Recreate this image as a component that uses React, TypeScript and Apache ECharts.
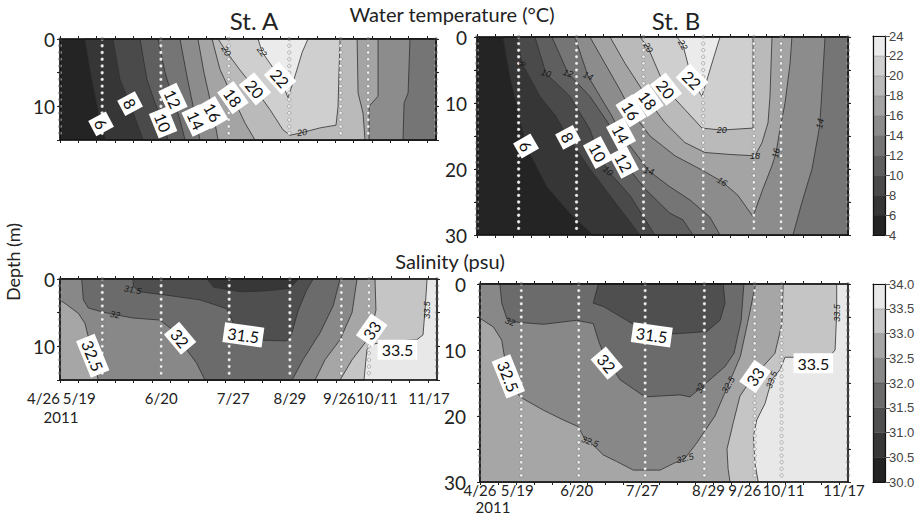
import React, { useEffect, useRef } from 'react';
import * as echarts from 'echarts';

// ---------- sampling grid (days since 26 Apr 2011) ----------
const T_END = 205;
const SAMPLE_T = [0, 23, 55, 92, 125, 153, 168, 205];
const SAMPLE_LABELS = ['4/26', '5/19', '6/20', '7/27', '8/29', '9/26', '10/11', '11/17'];
const YEAR_LABEL = '2011';
const X_TICKS = [0, 10, 20, 30, 40, 50, 60, 70, 80, 90, 100, 110, 120, 130, 140, 150, 160, 170, 180, 190, 200];
const DEPTHS_A = [0, 1, 2, 3, 4, 5, 6, 7, 8, 9, 10, 11, 12, 13, 14];
const DEPTHS_B = [0, 1, 2, 3, 4, 5, 6, 7, 8, 9, 10, 11, 12, 13, 14, 15, 16, 17, 18, 19, 20, 21, 22, 23, 24, 25, 26, 27, 28, 29];

// ---------- colour scales ----------
const TEMP_LEVELS = [4, 6, 8, 10, 12, 14, 16, 18, 20, 22, 24];
const TEMP_COLORS = ['#242424', '#363636', '#4a4a4a', '#5f5f5f', '#757575', '#8c8c8c', '#a4a4a4', '#bababa', '#cfcfcf', '#ebebeb'];
const SAL_LEVELS = [30, 30.5, 31, 31.5, 32, 32.5, 33, 33.5, 34];
const SAL_COLORS = ['#232323', '#373737', '#4f4f4f', '#6b6b6b', '#888888', '#a6a6a6', '#c5c5c5', '#e8e8e8'];

// ---------- isolines [day offset, depth m] : temperature St. A ----------
const TA_6 = [[13.6, 0], [17.4, 6], [22.4, 12.6], [25.1, 15]];
const TA_8 = [[28.9, 0], [32.7, 6], [38.2, 9.6], [45.3, 15]];
const TA_10 = [[43.6, 0], [47.4, 6], [51.8, 9.5], [56.2, 12.4], [58.9, 15]];
const TA_12 = [[53.4, 0], [57.3, 5], [61.6, 8.9], [65.4, 12], [68.2, 15]];
const TA_14W = [[65.4, 0], [69.2, 5.5], [74.2, 12.1], [76.3, 15]];
const TA_14C = [[190.8, 0], [189.8, 8], [187.6, 9.5], [187, 15]];
const TA_16W = [[75.2, 0], [78.5, 5], [83.4, 10.9], [86.2, 15]];
const TA_16C = [[173.4, 0], [173.4, 8.5], [168.5, 10], [168.5, 15]];
const TA_18W = [[82.9, 0], [87.2, 4.5], [94.3, 8.7], [100.9, 12.5], [106.3, 15]];
const TA_18C = [[162, 0], [162.5, 8], [165.2, 11], [166.3, 15]];
const TA_20 = [[86.2, 0], [90.5, 1.8], [98.1, 4.6], [106.3, 7.4], [114.5, 10.5], [121.6, 13.5], [125.4, 14.3], [132, 13.9], [141.8, 13.2], [150.5, 12.8], [151.6, 10], [152.1, 5], [152.7, 0]];
const TA_22 = [[108, 0], [110.1, 1.9], [120, 5.8], [124.3, 8.7], [127, 6.5], [129.8, 4], [132, 2], [135.2, 0]];

// ---------- temperature St. B ----------
const TB_6 = [[14.4, 0], [18.2, 6], [22.7, 11], [27.1, 16.5], [38.7, 22.7], [51.4, 26.7], [64.1, 30]];
const TB_8 = [[22.1, 0], [24.9, 4], [34.8, 9], [43.6, 12], [50.3, 15.2], [62.4, 20], [76.2, 25], [90.1, 30]];
const TB_10 = [[32, 0], [38.1, 5.5], [51.4, 9], [62.4, 14], [66.9, 17.5], [72.4, 20.3], [84.5, 24], [98.3, 30]];
const TB_12 = [[41.4, 0], [50.3, 5.5], [62.4, 9], [72.4, 13], [81.2, 19], [92.8, 23], [106.6, 26.7], [113.8, 27.7], [119.3, 30]];
const TB_14W = [[54.1, 0], [61.3, 5.9], [68, 9], [74.6, 12], [79.6, 14.7], [95, 20.3], [106.6, 22.7], [117.7, 24.7], [128.7, 27.3], [134.3, 30]];
const TB_14C = [[192.3, 0], [190.6, 8], [189.5, 13], [188.4, 15], [185.1, 20], [179.6, 25], [174.6, 30]];
const TB_16 = [[62.4, 0], [70.7, 4], [79, 8], [85.1, 11.2], [95.6, 15], [109.4, 18], [123.2, 20], [135.4, 21.9], [144.2, 24], [152.5, 27.2], [158, 23], [163, 19.5], [165.2, 17.6], [167.4, 14], [170.2, 10], [173, 4], [174, 0]];
const TB_18 = [[73.5, 0], [81.8, 4], [90.1, 7.5], [94.5, 9.6], [103.9, 13], [114.9, 16], [125.9, 17.5], [139.8, 17.8], [153.6, 18], [157.5, 16], [160.8, 13], [161.9, 9], [163, 0]];
const TB_20 = [[90.1, 0], [94.5, 1.6], [104.4, 7.9], [114.9, 11], [124.3, 13.8], [135.2, 14.1], [152.5, 13.8], [152.5, 0]];
const TB_22 = [[110.5, 0], [113.8, 1.2], [118.8, 6.5], [124.3, 9], [127.6, 6], [130.9, 3], [134.3, 0]];

// ---------- salinity St. A ----------
const SA_31 = [[79.9, 0], [83.4, 1.2], [97.9, 1.9], [110.5, 1.8], [125.1, 1.4], [129.6, 0]];
const SA_315 = [[39.7, 0], [39.9, 1.1], [43.5, 1.9], [58, 2.4], [76.1, 3.1], [90.6, 4.4], [94.1, 6.5], [99.7, 8.3], [110.5, 9.1], [123.3, 9.2], [126, 8.1], [129.6, 4.6], [134.2, 1.6], [137.7, 0]];
const SA_32L = [[11.8, 0], [12.7, 3.1], [15.4, 4.3], [21.8, 4.8], [29.9, 5.3], [39.9, 5.8], [54.4, 6.1], [60.9, 7.5], [65.3, 8.8], [68.9, 10.5], [74.3, 12.5], [78.8, 15]];
const SA_32R = [[152.3, 0], [148.5, 4], [141.4, 8], [132.1, 12], [126.2, 15]];
const SA_325L = [[0, 3.1], [3.6, 3.8], [10, 5.1], [13.6, 6.6], [15.4, 8.6], [17.8, 11.4], [20.8, 15]];
const SA_325R = [[161.5, 0], [158.8, 5], [152.3, 9], [144.1, 12], [138.7, 15]];
const SA_33 = [[171.3, 0], [171.8, 4.6], [169.5, 7.6], [165.8, 9.5], [158.8, 12], [152.3, 15]];
const SA_335 = [[199.6, 0], [198.5, 4.6], [197.4, 8.3], [194.1, 9], [179.4, 9.3], [169.1, 9.7], [166.9, 10.5], [165.3, 15]];

// ---------- salinity St. B ----------
const SB_315 = [[65.9, 0], [63.1, 2.9], [68.7, 3.4], [81.7, 5.5], [95.7, 7.7], [111.4, 7.5], [126.3, 7.2], [133.7, 5.5], [136.5, 2.9], [135.5, 0]];
const SB_32 = [[11.1, 0], [12.1, 2.9], [14.9, 5.2], [16.7, 5.7], [35.3, 6.1], [53.9, 5.5], [63.1, 6], [65.9, 8.5], [68.7, 10.5], [78, 14.5], [91.9, 17.1], [111.4, 16.8], [117, 17.1], [122.6, 15.8], [128.1, 14.5], [136.5, 12.5], [141.5, 10.5], [145.5, 5.5], [147, 0]];
const SB_325 = [[0, 5.2], [7.4, 6.5], [12.1, 8.5], [13.9, 11.5], [15, 14.2], [22.3, 17.1], [35.2, 19.1], [46.4, 20.6], [54.7, 21.6], [58.5, 23.6], [61.3, 23.9], [68.7, 25.9], [76.2, 26.9], [85.4, 28.2], [100.3, 28.2], [107.7, 27.2], [114.2, 26.4], [120.7, 24.1], [124.4, 22.6], [130.9, 20], [134.8, 17.5], [138.3, 15.3], [145, 11], [149, 6], [152, 2], [153.5, 0]];
const SB_33 = [[168.9, 0], [168.2, 6], [164.3, 10.5], [156, 13], [151.4, 14.3], [144.8, 17], [141.1, 21], [137.6, 25], [138.2, 28], [139.3, 30]];
const SB_335 = [[198.7, 0], [198.7, 4.4], [197.8, 10], [195, 10.9], [180.1, 11.1], [169.9, 11.1], [167.1, 13], [162.5, 14.5], [158.8, 18.1], [154.2, 20.6], [152.3, 23.1], [153.2, 27.2], [155, 30]];

// ---------- contour labels [day, depth, text, rotation deg, boxed] ----------
const TA_LABELS = [
  [22.4, 12.6, '6', -62, 1], [38.2, 9.6, '8', -62, 1], [56.2, 12.4, '10', -68, 1], [61.6, 8.9, '12', -65, 1],
  [74.2, 12.1, '14', -65, 1], [83.4, 10.9, '16', -60, 1], [94.3, 8.7, '18', -55, 1], [106.3, 7.4, '20', -50, 1],
  [120, 5.8, '22', -48, 1], [90.5, 1.8, '20', -60, 0], [110.1, 1.9, '22', -55, 0], [132, 13.9, '20', 8, 0],
];
const TB_LABELS = [
  [27.1, 16.5, '6', -60, 1], [50.3, 15.2, '8', -62, 1], [66.9, 17.5, '10', -62, 1], [81.2, 19, '12', -62, 1],
  [79.6, 14.7, '14', -62, 1], [85.1, 11.2, '16', -58, 1], [94.5, 9.6, '18', -55, 1], [104.4, 7.9, '20', -52, 1],
  [118.8, 6.5, '22', -45, 1], [94.5, 1.6, '20', -60, 0], [113.8, 1.2, '22', -60, 0], [24.9, 4, '8', -80, 0],
  [38.1, 5.5, '10', -20, 0], [50.3, 5.5, '12', -20, 0], [61.3, 5.9, '14', -25, 0], [72.4, 20.3, '10', -40, 0],
  [95, 20.3, '14', -15, 0], [135.2, 14.1, '20', 0, 0], [153.6, 18.1, '18', 0, 0], [135.4, 21.9, '16', -30, 0],
  [165.2, 17.6, '16', 80, 0], [189.5, 13.1, '14', 80, 0],
];
const SA_LABELS = [
  [17.8, 11.4, '32.5', -68, 1], [65.3, 8.8, '32', -50, 1], [99.7, 8.3, '31.5', -8, 1], [169.5, 7.6, '33', 55, 1],
  [183.5, 10.5, '33.5', 0, 1], [39.5, 1.6, '31.5', -10, 0], [29.9, 5.3, '32', -10, 0], [199.4, 4.6, '33.5', 90, 0],
];
const SB_LABELS = [
  [15.8, 14, '32.5', -68, 1], [70.6, 12, '32', -50, 1], [95.7, 7.7, '31.5', -8, 1], [153.2, 14, '33', 55, 1],
  [185.7, 12, '33.5', 0, 1], [16.7, 5.7, '32', -20, 0], [61.3, 23.9, '32.5', -20, 0], [114.2, 26.4, '32.5', 15, 0],
  [122.6, 15.8, '32', 70, 0], [138.3, 15.3, '32.5', 60, 0], [162.5, 14.5, '33.5', 70, 0], [198.7, 4.4, '33.5', 90, 0],
];

// ---------- region construction ----------
type Pt = number[];
const rev = (a: Pt[]) => [...a].reverse();
const tc = (l: number) => TEMP_COLORS[TEMP_LEVELS.indexOf(l)];
const scBelow = (l: number) => SAL_COLORS[SAL_LEVELS.indexOf(l) - 1];
const rect = (dMax: number): Pt[] => [[0, 0], [T_END, 0], [T_END, dMax], [0, dMax]];
const warmSide = (line: Pt[], dMax: number): Pt[] => [...line, [T_END, dMax], [T_END, 0]];
const leftOf = (line: Pt[], dMax: number): Pt[] => [[0, 0], ...line, [0, dMax]];

const TA_REGIONS = [
  { c: tc(4), p: rect(15) },
  { c: tc(6), p: warmSide(TA_6, 15) },
  { c: tc(8), p: warmSide(TA_8, 15) },
  { c: tc(10), p: warmSide(TA_10, 15) },
  { c: tc(12), p: warmSide(TA_12, 15) },
  { c: tc(14), p: [...TA_14W, ...rev(TA_14C)] },
  { c: tc(16), p: [...TA_16W, ...rev(TA_16C)] },
  { c: tc(18), p: [...TA_18W, ...rev(TA_18C)] },
  { c: tc(20), p: TA_20 },
  { c: tc(22), p: TA_22 },
];
const TB_REGIONS = [
  { c: tc(4), p: rect(30) },
  { c: tc(6), p: warmSide(TB_6, 30) },
  { c: tc(8), p: warmSide(TB_8, 30) },
  { c: tc(10), p: warmSide(TB_10, 30) },
  { c: tc(12), p: warmSide(TB_12, 30) },
  { c: tc(14), p: [...TB_14W, ...rev(TB_14C)] },
  { c: tc(16), p: TB_16 },
  { c: tc(18), p: TB_18 },
  { c: tc(20), p: TB_20 },
  { c: tc(22), p: TB_22 },
];
const SA_REGIONS = [
  { c: SAL_COLORS[7], p: rect(15) },
  { c: scBelow(33.5), p: leftOf(SA_335, 15) },
  { c: scBelow(33), p: leftOf(SA_33, 15) },
  { c: scBelow(32.5), p: [[0, 0], ...SA_325R, ...rev(SA_325L)] },
  { c: scBelow(32), p: [...SA_32L, ...rev(SA_32R)] },
  { c: scBelow(31.5), p: SA_315 },
  { c: scBelow(31), p: SA_31 },
];
const SB_REGIONS = [
  { c: SAL_COLORS[7], p: rect(30) },
  { c: scBelow(33.5), p: leftOf(SB_335, 30) },
  { c: scBelow(33), p: leftOf(SB_33, 30) },
  { c: scBelow(32.5), p: [[0, 0], ...SB_325] },
  { c: scBelow(32), p: SB_32 },
  { c: scBelow(31.5), p: SB_315 },
];

const FONT = 'Lato';
const PANELS = [
  { grid: { left: 60, top: 39, width: 376, height: 101 }, dMax: 15, regions: TA_REGIONS, labels: TA_LABELS, depths: DEPTHS_A, yMargin: 5, x: null as any },
  { grid: { left: 477, top: 37, width: 371, height: 198 }, dMax: 30, regions: TB_REGIONS, labels: TB_LABELS, depths: DEPTHS_B, yMargin: 10, x: null as any },
  { grid: { left: 60, top: 279, width: 377, height: 101 }, dMax: 15, regions: SA_REGIONS, labels: SA_LABELS, depths: DEPTHS_A, yMargin: 5,
    x: { offs: [0, -23, 0, 4, 0, -2, 8, -8], alignMin: 'right', margin: 9, year: [61, 417] } },
  { grid: { left: 480, top: 284, width: 368, height: 198 }, dMax: 30, regions: SB_REGIONS, labels: SB_LABELS, depths: DEPTHS_B, yMargin: 14,
    x: { offs: [0, -4, -2, -3, 4, -10, 2, -4], alignMin: 'center', margin: -1, year: [493, 507] } },
];

const pad = (o: number) => (o < 0 ? [0, -2 * o, 0, 0] : [0, 0, 0, 2 * o]);

function buildOption() {
  const grid: any[] = [];
  const xAxis: any[] = [];
  const yAxis: any[] = [];
  const series: any[] = [];
  const graphic: any[] = [];
  const line = { show: true, onZero: false, lineStyle: { color: '#111', width: 1.5 } };

  const txt = (text: string, x: number, y: number, size: number, rotation = 0) => ({
    type: 'text', x, y, rotation, silent: true,
    style: { text, font: `${size}px ${FONT}`, fill: '#222', align: 'center', verticalAlign: 'middle', textAlign: 'center', textVerticalAlign: 'middle' },
  });

  PANELS.forEach((p, gi) => {
    grid.push({ ...p.grid, outerBoundsMode: 'none', containLabel: false });
    let xLabel: any = { show: false };
    if (p.x) {
      const rich: any = {};
      p.x.offs.forEach((o: number, i: number) => {
        rich['l' + i] = { padding: pad(o), fontFamily: FONT, fontSize: 15, color: '#222', lineHeight: 18 };
      });
      xLabel = {
        show: true, customValues: SAMPLE_T, margin: p.x.margin, rich,
        showMinLabel: true, showMaxLabel: true, hideOverlap: false,
        alignMinLabel: p.x.alignMin, alignMaxLabel: 'center',
        fontFamily: FONT, fontSize: 15, color: '#222',
        formatter: (v: number) => {
          const i = SAMPLE_T.indexOf(v);
          return i < 0 ? '' : `{l${i}|${SAMPLE_LABELS[i]}}`;
        },
      };
      graphic.push(txt(YEAR_LABEL, p.x.year[0], p.x.year[1], 15));
    }
    const xBase = {
      type: 'value', gridIndex: gi, min: 0, max: T_END, z: 5,
      axisLine: line, splitLine: { show: false },
      axisTick: { show: true, inside: false, length: 3, customValues: X_TICKS, lineStyle: { color: '#222', width: 1 } },
    };
    xAxis.push({ ...xBase, position: 'bottom', axisLabel: xLabel });
    xAxis.push({ ...xBase, position: 'top', axisLabel: { show: false } });
    const yBase = {
      type: 'value', gridIndex: gi, min: 0, max: p.dMax, interval: 5, inverse: true, z: 5,
      axisLine: line, splitLine: { show: false },
      axisTick: { show: true, inside: false, length: 3, lineStyle: { color: '#222', width: 1 } },
    };
    yAxis.push({
      ...yBase, position: 'left',
      axisLabel: { show: true, margin: p.yMargin, fontFamily: FONT, fontSize: 19, color: '#222', showMinLabel: true, formatter: (v: number) => (v % 10 === 0 ? String(v) : '') },
    });
    yAxis.push({ ...yBase, position: 'right', axisLabel: { show: false } });

    const regions = p.regions;
    series.push({
      type: 'custom', xAxisIndex: 2 * gi, yAxisIndex: 2 * gi, silent: true, z: 1,
      data: regions.map((r) => [r.p[0][0], r.p[0][1]]),
      encode: { x: 0, y: 1 },
      renderItem: (params: any, api: any) => {
        const r = regions[params.dataIndex];
        return {
          type: 'polygon',
          shape: { points: r.p.map((pt) => api.coord(pt)) },
          style: { fill: r.c, stroke: '#303030', lineWidth: 0.8 },
        };
      },
    });
    series.push({
      type: 'scatter', xAxisIndex: 2 * gi, yAxisIndex: 2 * gi, silent: true, z: 3, clip: false,
      data: SAMPLE_T.flatMap((t) => p.depths.map((d) => [t, d])),
      symbol: 'circle', symbolSize: 3.4,
      itemStyle: { color: '#ededed', borderColor: 'rgba(70,70,70,0.55)', borderWidth: 0.6, opacity: 1 },
    });
    const labels = p.labels;
    series.push({
      type: 'custom', xAxisIndex: 2 * gi, yAxisIndex: 2 * gi, silent: true, z: 4,
      data: labels.map((l) => [l[0], l[1]]),
      encode: { x: 0, y: 1 },
      renderItem: (params: any, api: any) => {
        const l = labels[params.dataIndex] as any[];
        const c = api.coord([l[0], l[1]]);
        const big = l[4] === 1;
        const style: any = big
          ? { text: l[2], font: `16px ${FONT}`, fill: '#111', align: 'center', verticalAlign: 'middle', textAlign: 'center', textVerticalAlign: 'middle', backgroundColor: '#ffffff', padding: [2, 4] }
          : { text: l[2], font: 'italic 9px "Liberation Sans", Arial', fill: '#1a1a1a', align: 'center', verticalAlign: 'middle', textAlign: 'center', textVerticalAlign: 'middle' };
        return { type: 'text', x: c[0], y: c[1], rotation: (l[3] * Math.PI) / 180, style };
      },
    });
  });

  // colour bars
  const bars = [
    { grid: { left: 873, top: 36, width: 12, height: 199 }, levels: TEMP_LEVELS, colors: TEMP_COLORS, interval: 2, fmt: (v: number) => String(v) },
    { grid: { left: 873, top: 284, width: 12, height: 198 }, levels: SAL_LEVELS, colors: SAL_COLORS, interval: 0.5, fmt: (v: number) => v.toFixed(1) },
  ];
  bars.forEach((b) => {
    const gi = grid.length;
    grid.push({ ...b.grid, outerBoundsMode: 'none', containLabel: false });
    const bl = { show: true, onZero: false, lineStyle: { color: '#111', width: 1.2 } };
    const xb = { type: 'value', gridIndex: gi, min: 0, max: 1, z: 5, axisLine: bl, axisTick: { show: false }, axisLabel: { show: false }, splitLine: { show: false } };
    xAxis.push({ ...xb, position: 'bottom' });
    xAxis.push({ ...xb, position: 'top' });
    const min = b.levels[0];
    const max = b.levels[b.levels.length - 1];
    yAxis.push({
      type: 'value', gridIndex: gi, min, max, interval: b.interval, position: 'right', z: 5,
      axisLine: bl, splitLine: { show: false },
      axisTick: { show: true, inside: false, length: 5, lineStyle: { color: '#555' } },
      axisLabel: { show: true, margin: 4, fontFamily: '"Liberation Sans", Arial', fontSize: 13, color: '#444', formatter: b.fmt },
    });
    yAxis.push({
      type: 'value', gridIndex: gi, min, max, interval: b.interval, position: 'left', z: 5,
      axisLine: bl, splitLine: { show: false }, axisTick: { show: false }, axisLabel: { show: false },
    });
    series.push({
      type: 'custom', xAxisIndex: 2 * gi, yAxisIndex: 2 * gi, silent: true, z: 1,
      data: b.colors.map((c, i) => [0, b.levels[i]]),
      encode: { x: 0, y: 1 },
      renderItem: (params: any, api: any) => {
        const i = params.dataIndex;
        const p0 = api.coord([0, b.levels[i]]);
        const p1 = api.coord([1, b.levels[i + 1]]);
        return {
          type: 'rect',
          shape: { x: p0[0], y: p1[1], width: p1[0] - p0[0], height: p0[1] - p1[1] },
          style: { fill: b.colors[i], stroke: 'rgba(0,0,0,0.25)', lineWidth: 0.5 },
        };
      },
    });
  });

  graphic.push(
    txt('St. A', 254, 20, 24),
    txt('Water temperature (°C)', 452, 14, 20),
    txt('St. B', 676, 20, 24),
    txt('Salinity (psu)', 450, 261, 20),
    txt('Depth (m)', 13, 262, 18, Math.PI / 2),
  );

  return {
    animation: false,
    backgroundColor: '#ffffff',
    grid, xAxis, yAxis, series, graphic,
  };
}

export default function App() {
  const ref = useRef<HTMLDivElement>(null);
  useEffect(() => {
    document.body.style.margin = '0';
    const chart = echarts.init(ref.current as HTMLDivElement, null, { renderer: 'svg' });
    chart.setOption(buildOption() as any);
    return () => chart.dispose();
  }, []);
  return <div ref={ref} style={{ width: 921, height: 523, background: '#fff' }} />;
}
